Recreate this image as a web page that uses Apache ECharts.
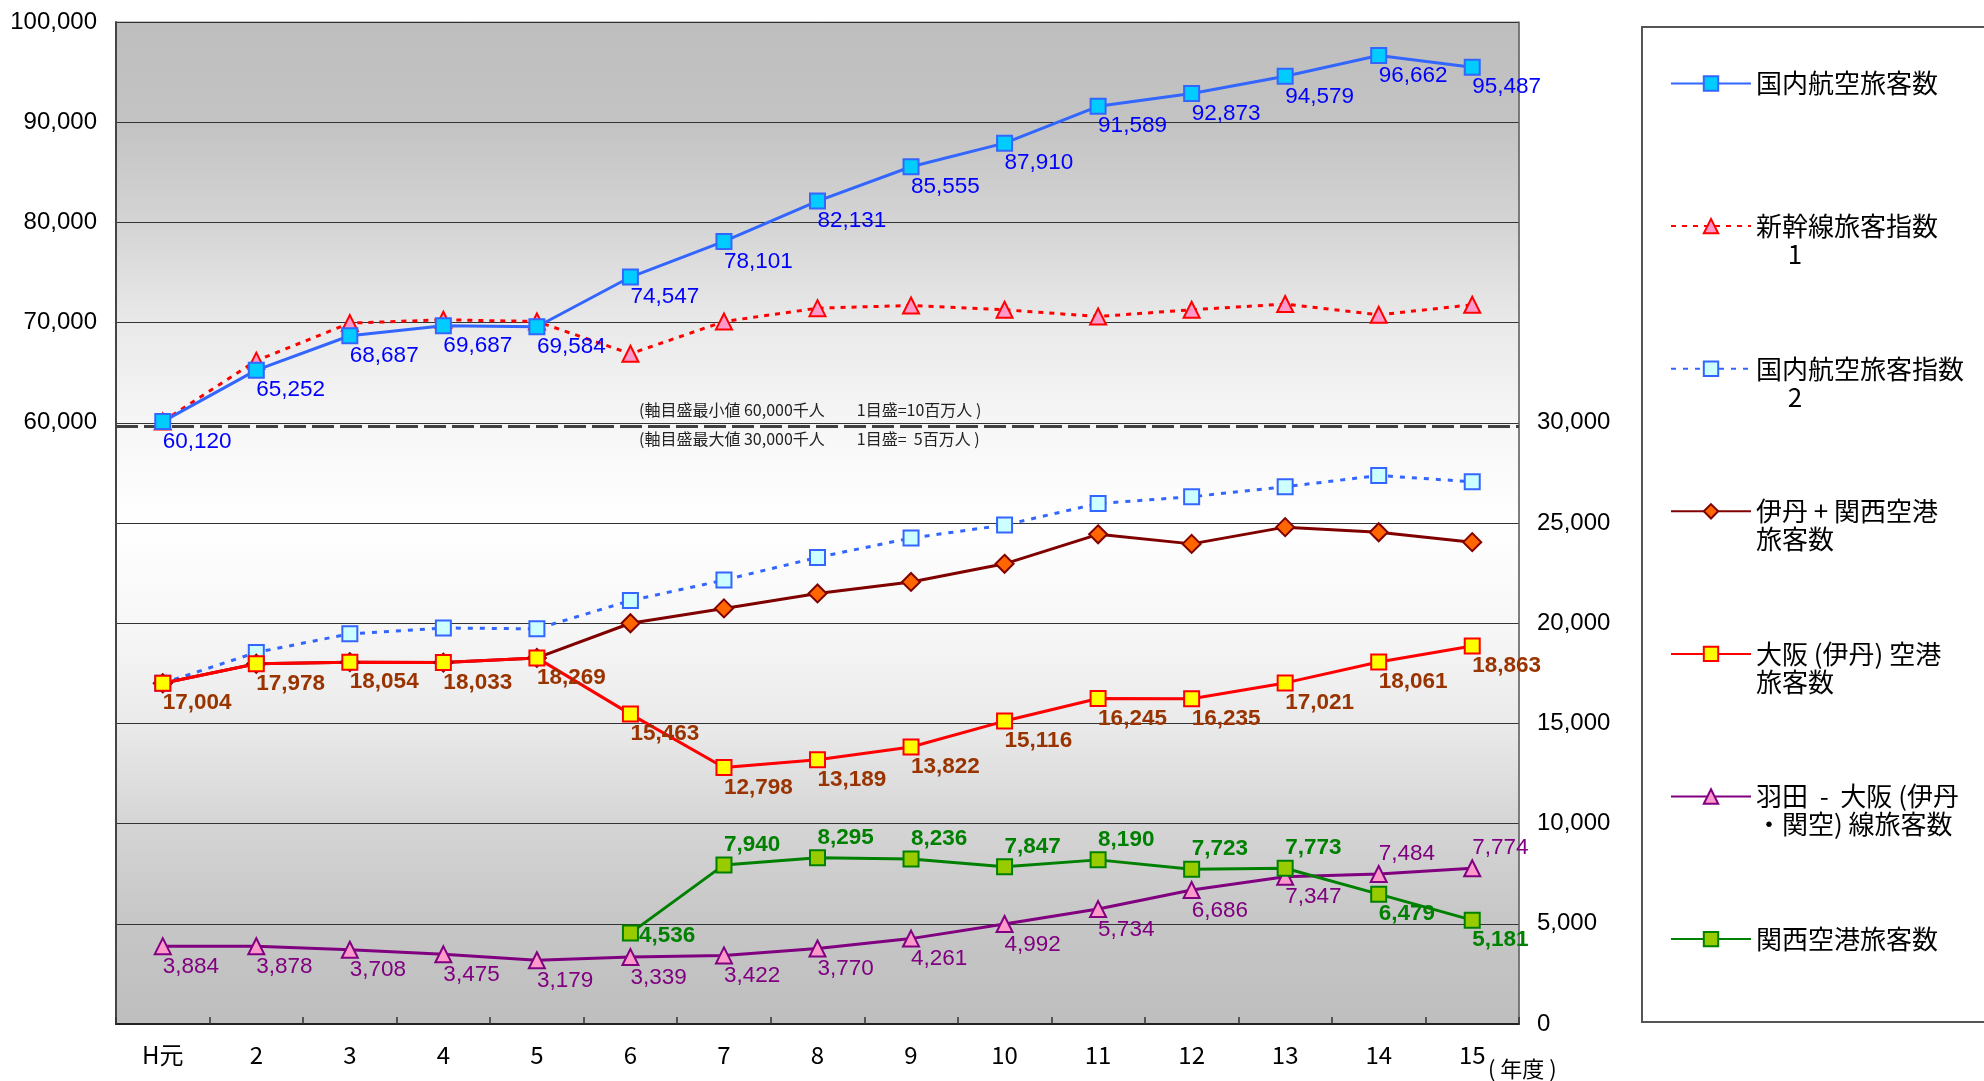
<!DOCTYPE html>
<html>
<head>
<meta charset="utf-8">
<script src="https://cdn.jsdelivr.net/npm/echarts@6.0.0/dist/echarts.min.js"></script>
<style>
html,body{margin:0;padding:0;background:#fff;}
#chart{width:1984px;height:1081px;}
</style>
</head>
<body>
<div id="chart"></div>
<script>
// ---- data ----
const categories = ['H元','2','3','4','5','6','7','8','9','10','11','12','13','14','15'];
const domesticAir = [60120,65252,68687,69687,69584,74547,78101,82131,85555,87910,91589,92873,94579,96662,95487];
const shinkansenIndex = [60120,66200,69950,70280,70110,66890,70110,71440,71710,71280,70610,71280,71850,70780,71780];
const domesticAirIndex = [17004,18540,19470,19760,19720,21130,22150,23280,24250,24900,25970,26310,26810,27370,27060];
const itamiKansai = [17004,17978,18054,18033,18269,19999,20738,21484,22058,22963,24435,23958,24794,24540,24044];
const osakaItami = [17004,17978,18054,18033,18269,15463,12798,13189,13822,15116,16245,16235,17021,18061,18863];
const hanedaOsaka = [3884,3878,3708,3475,3179,3339,3422,3770,4261,4992,5734,6686,7347,7484,7774];
const kansai = [null,null,null,null,null,4536,7940,8295,8236,7847,8190,7723,7773,6479,5181];
const leftTicks = { min: 0, max: 100000, interval: 10000, shownFrom: 60000 };
const rightTicks = { min: 0, max: 50000, interval: 5000, shownTo: 30000 };
const separatorValue = 59700;
const seriesNames = ['国内航空旅客数','新幹線旅客指数 1','国内航空旅客指数 2','伊丹 + 関西空港旅客数','大阪(伊丹)空港旅客数','羽田 - 大阪(伊丹・関空)線旅客数','関西空港旅客数'];
const legendLines = {
  '国内航空旅客数': ' \n国内航空旅客数\n ',
  '新幹線旅客指数 1': ' \n新幹線旅客指数\n\u3000 1',
  '国内航空旅客指数 2': ' \n国内航空旅客指数\n\u3000 2',
  '伊丹 + 関西空港旅客数': ' \n伊丹 + 関西空港\n旅客数',
  '大阪(伊丹)空港旅客数': ' \n大阪 (伊丹) 空港\n旅客数',
  '羽田 - 大阪(伊丹・関空)線旅客数': ' \n羽田  -  大阪 (伊丹\n・関空) 線旅客数',
  '関西空港旅客数': ' \n関西空港旅客数\n '
};
const noteTop = '(軸目盛最小値 60,000千人\u3000\u30001目盛=10百万人 )';
const noteBottom = '(軸目盛最大値 30,000千人\u3000\u30001目盛=  5百万人 )';

// ---- chart ----
const fmt = v => (v == null ? '' : Number(v).toLocaleString('en-US'));
const numFont = '"Liberation Sans", Arial, sans-serif';
const cjkFont = '"Noto Sans CJK JP", sans-serif';

function labelStyle(color, bold) {
  return {
    show: true, position: 'bottom', align: 'left', distance: 0,
    color: color, fontSize: 22.5, fontFamily: numFont, fontWeight: bold ? 'bold' : 'normal',
    formatter: p => fmt(p.value)
  };
}

const chart = echarts.init(document.getElementById('chart'), null, { renderer: 'canvas' });

const bgGradient = new echarts.graphic.LinearGradient(0, 0, 0, 1, [
  { offset: 0, color: '#BEBEBE' },
  { offset: 0.1, color: '#C3C3C3' },
  { offset: 0.2, color: '#D4D4D4' },
  { offset: 0.3, color: '#E9E9E9' },
  { offset: 0.4, color: '#F6F6F6' },
  { offset: 0.5, color: '#FFFFFF' },
  { offset: 0.6, color: '#F7F7F7' },
  { offset: 0.7, color: '#EAEAEA' },
  { offset: 0.8, color: '#D5D5D5' },
  { offset: 0.9, color: '#C6C6C6' },
  { offset: 1, color: '#BEBEBE' }
]);

const option = {
  animation: false,
  backgroundColor: '#ffffff',
  grid: {
    left: 116, right: 1984 - 1519, top: 22, bottom: 1081 - 1024,
    show: true, backgroundColor: bgGradient, borderColor: '#8a8a8a', borderWidth: 1,
    containLabel: false
  },
  legend: {
    orient: 'vertical',
    left: 1642, top: 27,
    padding: [14.5, 120, 41, 28],
    backgroundColor: '#ffffff',
    borderColor: '#555555', borderWidth: 2,
    itemWidth: 80, itemHeight: 18, itemGap: 58.6,
    data: seriesNames,
    formatter: name => legendLines[name] || name,
    textStyle: { fontSize: 26, lineHeight: 28, fontFamily: cjkFont, color: '#000' },
    selectedMode: false
  },
  xAxis: {
    type: 'category',
    data: categories,
    boundaryGap: true,
    axisLine: { show: true, lineStyle: { color: '#222', width: 2 } },
    axisTick: { show: true, inside: true, length: 7, alignWithLabel: false, lineStyle: { color: '#333', width: 1.5 } },
    axisLabel: { margin: 19, fontSize: 24, fontFamily: cjkFont, color: '#000', interval: 0 },
    splitLine: { show: false }
  },
  yAxis: [
    {
      type: 'value', position: 'left',
      min: leftTicks.min, max: leftTicks.max, interval: leftTicks.interval,
      axisLine: { show: true, lineStyle: { color: '#444', width: 2 } },
      axisTick: { show: false },
      axisLabel: {
        margin: 19, fontSize: 24, fontFamily: numFont, color: '#000',
        formatter: v => (v >= leftTicks.shownFrom ? fmt(v) : '')
      },
      splitLine: { show: true, lineStyle: { color: '#333', width: 1.2 } }
    },
    {
      type: 'value', position: 'right',
      min: rightTicks.min, max: rightTicks.max, interval: rightTicks.interval,
      axisLine: { show: true, lineStyle: { color: '#666', width: 1.5 } },
      axisTick: { show: false },
      axisLabel: {
        margin: 18, fontSize: 24, fontFamily: numFont, color: '#000',
        formatter: v => (v <= rightTicks.shownTo ? fmt(v) : '')
      },
      splitLine: { show: false }
    }
  ],
  series: [
    {
      name: seriesNames[0], type: 'line', yAxisIndex: 0, z: 5,
      data: domesticAir,
      symbol: 'rect', symbolSize: 15,
      lineStyle: { color: '#3366FF', width: 3 },
      itemStyle: { color: '#00CCFF', borderColor: '#3366FF', borderWidth: 2 },
      label: labelStyle('#0000FF', false),
      markLine: {
        silent: true, symbol: 'none', label: { show: false },
        lineStyle: { color: '#404040', width: 3, type: [22, 6] },
        data: [{ yAxis: separatorValue }]
      }
    },
    {
      name: seriesNames[1], type: 'line', yAxisIndex: 0, z: 4,
      data: shinkansenIndex,
      symbol: 'triangle', symbolSize: 16,
      lineStyle: { color: '#FF0000', width: 3, type: [5, 6] },
      itemStyle: { color: '#FF99CC', borderColor: '#FF0000', borderWidth: 2 },
      label: { show: false }
    },
    {
      name: seriesNames[2], type: 'line', yAxisIndex: 1,
      data: domesticAirIndex,
      symbol: 'rect', symbolSize: 15,
      lineStyle: { color: '#3366FF', width: 3, type: [5, 7] },
      itemStyle: { color: '#CCFFFF', borderColor: '#3366FF', borderWidth: 2 },
      label: { show: false }
    },
    {
      name: seriesNames[3], type: 'line', yAxisIndex: 1,
      data: itamiKansai,
      symbol: 'diamond', symbolSize: 18,
      lineStyle: { color: '#800000', width: 3 },
      itemStyle: { color: '#FF6600', borderColor: '#800000', borderWidth: 2 },
      label: { show: false }
    },
    {
      name: seriesNames[4], type: 'line', yAxisIndex: 1,
      data: osakaItami,
      symbol: 'rect', symbolSize: 15,
      lineStyle: { color: '#FF0000', width: 3 },
      itemStyle: { color: '#FFFF00', borderColor: '#FF0000', borderWidth: 2 },
      label: labelStyle('#993300', true)
    },
    {
      name: seriesNames[5], type: 'line', yAxisIndex: 1,
      data: hanedaOsaka.map((v, i) => ({ value: v, label: { position: i >= 13 ? 'top' : 'bottom' } })),
      symbol: 'triangle', symbolSize: 16,
      lineStyle: { color: '#800080', width: 3 },
      itemStyle: { color: '#FF99CC', borderColor: '#800080', borderWidth: 2 },
      label: labelStyle('#800080', false)
    },
    {
      name: seriesNames[6], type: 'line', yAxisIndex: 1,
      data: kansai.map((v, i) => ({
        value: v,
        label: i === 5 ? { position: 'right', offset: [0, 3] } : { position: i >= 13 ? 'bottom' : 'top' }
      })),
      symbol: 'rect', symbolSize: 15,
      lineStyle: { color: '#008000', width: 3 },
      itemStyle: { color: '#99CC00', borderColor: '#008000', borderWidth: 2 },
      label: labelStyle('#008000', true)
    }
  ],
  graphic: [
    { type: 'text', x: 639, y: 410, z: 10, style: { text: noteTop, fontSize: 16, fontFamily: cjkFont, fill: '#222', verticalAlign: 'middle' } },
    { type: 'text', x: 639, y: 439, z: 10, style: { text: noteBottom, fontSize: 16, fontFamily: cjkFont, fill: '#222', verticalAlign: 'middle' } },
    { type: 'text', x: 1488, y: 1069, z: 10, style: { text: '( 年度 )', fontSize: 22, fontFamily: cjkFont, fill: '#000', verticalAlign: 'middle' } }
  ]
};
chart.setOption(option);
</script>
</body>
</html>
